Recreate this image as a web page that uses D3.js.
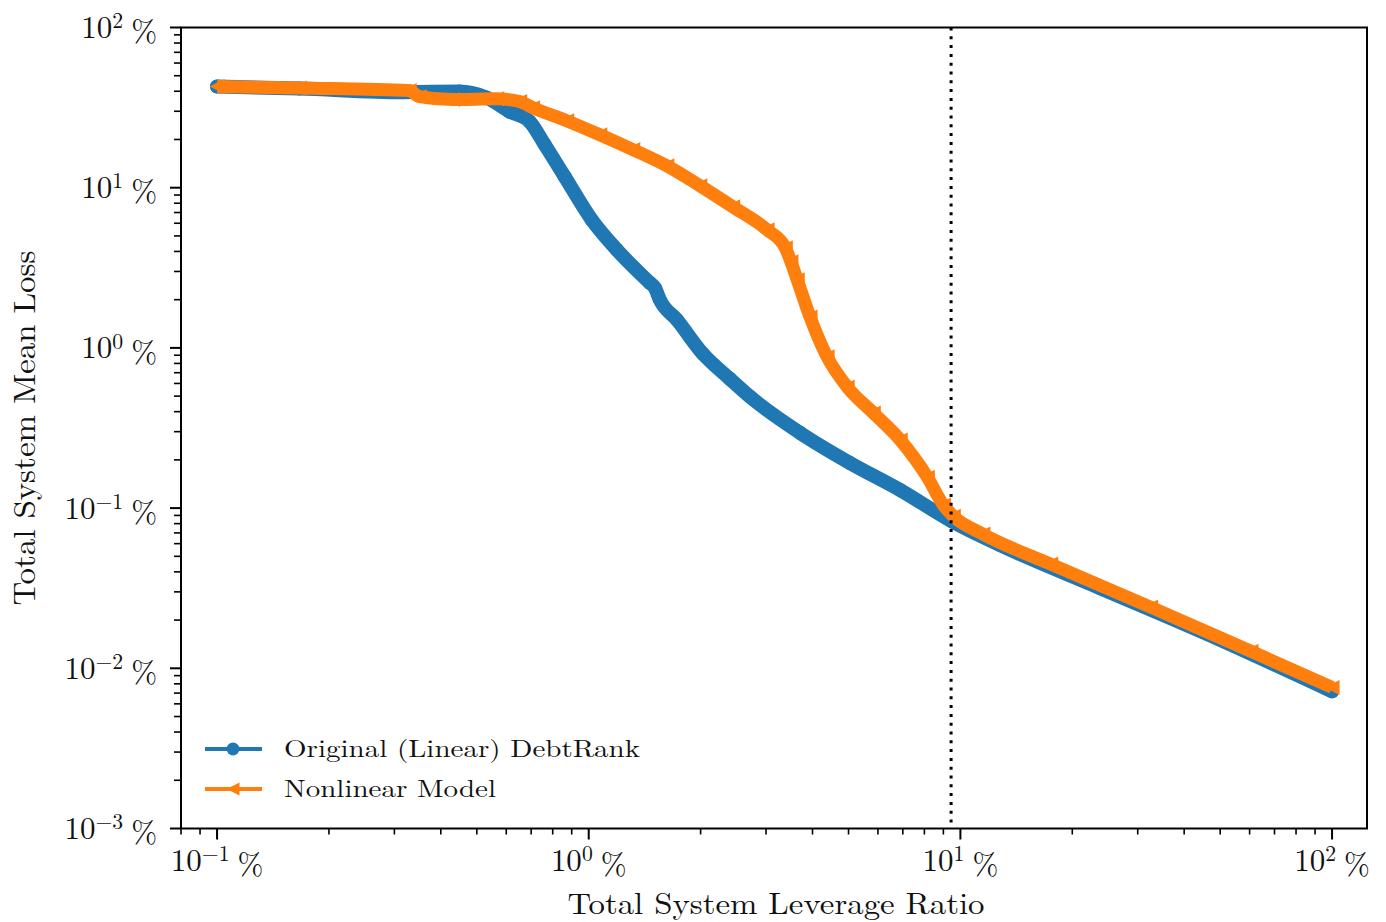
<!DOCTYPE html>
<html><head><meta charset="utf-8">
<script src="https://cdn.jsdelivr.net/npm/d3@7"></script>
<style>body{margin:0;background:#fff} svg{display:block}</style>
</head><body>
<svg id="c" width="1386" height="922"></svg>
<script>
// ---- data (percent values) ----
const linearX = [0.1, 0.1665, 0.3155, 0.449, 0.531, 0.612, 0.693, 0.761, 0.862, 1.019, 1.19, 1.459, 1.507, 1.553, 1.726, 2.03, 2.40, 2.72, 3.71, 5.05, 6.89, 9.46, 12.8, 23.8, 44.4, 100];
const linearY = [42.8, 41.6, 39.5, 39.8, 36.5, 29.9, 25.9, 18.6, 11.7, 6.3, 4.10, 2.55, 2.37, 2.0, 1.50, 0.917, 0.640, 0.494, 0.294, 0.191, 0.1296, 0.083, 0.0587, 0.0316, 0.0170, 0.00718];
const nonlinX = [0.1, 0.1665, 0.329, 0.350, 0.430, 0.565, 0.652, 0.706, 0.872, 1.071, 1.314, 1.622, 1.99, 2.44, 3.02, 3.38, 3.50, 3.64, 3.94, 4.38, 4.96, 5.83, 6.89, 8.15, 9.00, 9.57, 11.5, 17.5, 32.5, 60.5, 100];
const nonlinY = [42.8, 41.9, 40.4, 37.0, 35.5, 35.9, 34.5, 31.6, 26.2, 21.4, 17.3, 13.7, 10.3, 7.60, 5.46, 4.22, 3.45, 2.66, 1.56, 0.879, 0.571, 0.393, 0.266, 0.156, 0.1044, 0.0891, 0.0688, 0.0447, 0.0241, 0.01277, 0.0076];
const thresholdX = 9.44;
const seriesNames = ["Original (Linear) DebtRank", "Nonlinear Model"];
const xTickExponents = [-1, 0, 1, 2];
const yTickExponents = [-3, -2, -1, 0, 1, 2];
const xLabel = "Total System Leverage Ratio";
const yLabel = "Total System Mean Loss";
const xDomain = [Math.pow(10, -1.097), Math.pow(10, 2.094)];
const yDomain = [1e-3, 1e2];

// ---- layout ----
const L = 181, R = 1367, T = 27.5, B = 828.5;
const FONT = "'Latin Modern Roman','CMU Serif','Liberation Serif','Times New Roman',serif";
const BLUE = "#1f77b4", ORANGE = "#ff7f0e";

const svg = d3.select("#c");
const x = d3.scaleLog().domain(xDomain).range([L, R]);
const y = d3.scaleLog().domain(yDomain).range([B, T]);

function minorTicks(domain) {
  const out = [];
  const lo = Math.floor(Math.log10(domain[0])), hi = Math.ceil(Math.log10(domain[1]));
  for (let e = lo; e <= hi; e++) for (let m = 1; m <= 9; m++) {
    const v = m * Math.pow(10, e);
    if (v >= domain[0] * 0.9999 && v <= domain[1] * 1.0001) out.push({v, major: m === 1});
  }
  return out;
}

const g = svg.append("g");

// ---- series ----
const blueData = linearX.map((d, i) => [d, linearY[i]]);
const orangeData = nonlinX.map((d, i) => [d, nonlinY[i]]);
const line = d3.line().x(d => x(d[0])).y(d => y(d[1])).curve(d3.curveMonotoneX);

g.append("path").attr("d", line(blueData)).attr("fill", "none")
  .attr("stroke", BLUE).attr("stroke-width", 14).attr("stroke-linejoin", "round").attr("stroke-linecap", "round");
g.selectAll("circle.b").data(blueData).join("circle").attr("class", "b")
  .attr("cx", d => x(d[0])).attr("cy", d => y(d[1])).attr("r", 7).attr("fill", BLUE);

const tri = s => `M${-s/2},0L${s/2},${-s/2}L${s/2},${s/2}Z`;
g.append("path").attr("d", line(orangeData)).attr("fill", "none")
  .attr("stroke", ORANGE).attr("stroke-width", 13).attr("stroke-linejoin", "round").attr("stroke-linecap", "butt");
g.selectAll("path.o").data(orangeData).join("path").attr("class", "o")
  .attr("transform", d => `translate(${x(d[0])},${y(d[1])})`).attr("d", tri(15)).attr("fill", ORANGE);

// ---- threshold line ----
g.append("line").attr("x1", x(thresholdX)).attr("x2", x(thresholdX)).attr("y1", T).attr("y2", B)
  .attr("stroke", "#000").attr("stroke-width", 3).attr("stroke-dasharray", "3,5.8");

// ---- frame ----
svg.append("rect").attr("x", L).attr("y", T).attr("width", R - L).attr("height", B - T)
  .attr("fill", "none").attr("stroke", "#000").attr("stroke-width", 2);

// ---- ticks ----
minorTicks(xDomain).forEach(t => {
  svg.append("line").attr("x1", x(t.v)).attr("x2", x(t.v)).attr("y1", B).attr("y2", B + (t.major ? 11 : 6))
    .attr("stroke", "#000").attr("stroke-width", t.major ? 2 : 1.6);
});
minorTicks(yDomain).forEach(t => {
  svg.append("line").attr("y1", y(t.v)).attr("y2", y(t.v)).attr("x1", L).attr("x2", L - (t.major ? 11 : 7))
    .attr("stroke", "#000").attr("stroke-width", t.major ? 2 : 1.6);
});

function expLabel(sel, e) {
  sel.append("tspan").text("10");
  sel.append("tspan").attr("font-size", "70%").attr("dy", "-0.45em").text(String(e).replace("-", "\u2212"));
  sel.append("tspan").attr("dy", "0.45em").attr("dx", 8).text("%");
}
xTickExponents.forEach(e => {
  const t = svg.append("text").attr("x", x(Math.pow(10, e))).attr("y", 871)
    .attr("text-anchor", "middle").attr("font-family", FONT).attr("font-size", 31).attr("fill", "#111");
  expLabel(t, e);
});
yTickExponents.forEach(e => {
  const t = svg.append("text").attr("x", 157).attr("y", y(Math.pow(10, e)) + 10.5)
    .attr("text-anchor", "end").attr("font-family", FONT).attr("font-size", 31).attr("fill", "#111");
  expLabel(t, e);
});

// ---- axis titles ----
svg.append("text").attr("x", (L + R) / 2 + 2).attr("y", 914).attr("text-anchor", "middle")
  .attr("font-family", FONT).attr("font-size", 30).attr("fill", "#111")
  .attr("textLength", 417).attr("lengthAdjust", "spacingAndGlyphs").text(xLabel);
svg.append("text").attr("transform", `translate(35,${(T + B) / 2}) rotate(-90)`).attr("text-anchor", "middle")
  .attr("font-family", FONT).attr("font-size", 31).attr("fill", "#111")
  .attr("textLength", 355).attr("lengthAdjust", "spacingAndGlyphs").text(yLabel);

// ---- legend ----
const leg = svg.append("g");
const legY = [749, 789];
const legW = [356, 212];
seriesNames.forEach((name, i) => {
  const col = i === 0 ? BLUE : ORANGE;
  leg.append("line").attr("x1", 205).attr("x2", 262).attr("y1", legY[i]).attr("y2", legY[i])
    .attr("stroke", col).attr("stroke-width", 4);
  if (i === 0) leg.append("circle").attr("cx", 233).attr("cy", legY[i]).attr("r", 6.5).attr("fill", col);
  else leg.append("path").attr("transform", `translate(233,${legY[i]})`).attr("d", tri(13)).attr("fill", col);
  leg.append("text").attr("x", 284).attr("y", legY[i] + 8).attr("font-family", FONT).attr("font-size", 24)
    .attr("fill", "#111").attr("textLength", legW[i]).attr("lengthAdjust", "spacingAndGlyphs").text(name);
});
</script>
</body></html>
